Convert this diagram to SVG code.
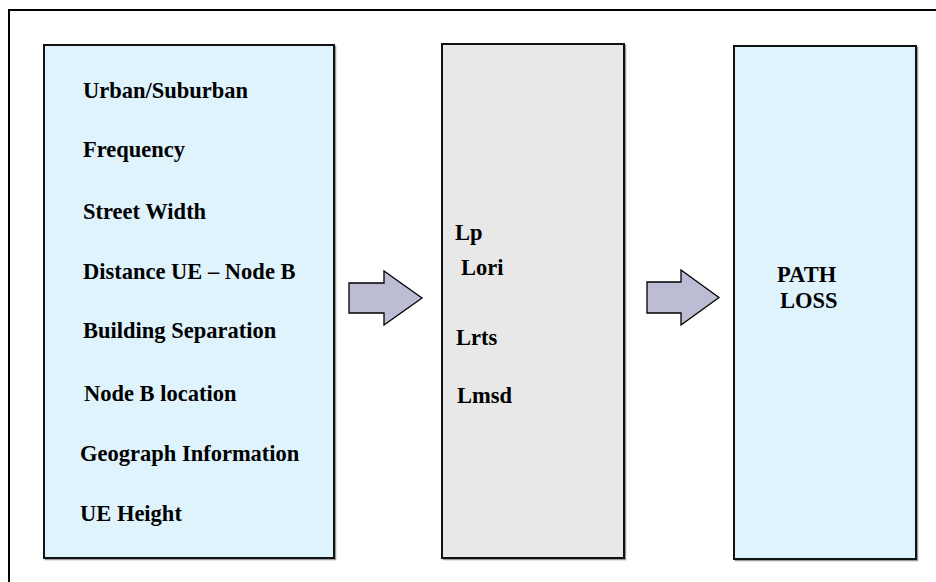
<svg xmlns="http://www.w3.org/2000/svg" width="936" height="582" viewBox="0 0 936 582">
  <style>
    .frame { fill: #ffffff; stroke: #000000; stroke-width: 2; }
    .shadow { fill: none; stroke: #9a9a9a; stroke-width: 1.5; }
    .box { stroke: #111111; stroke-width: 2; }
    .blue { fill: #dff3fc; }
    .grey { fill: #e8e8e8; }
    .lbl { font-family: "Liberation Serif", "Times New Roman", serif; font-weight: bold; font-size: 22.5px; fill: #000000; }
    .arrow { fill: #bcbcd4; stroke: #000000; stroke-width: 1.3; stroke-linejoin: miter; }
  </style>

  <rect width="936" height="582" fill="#ffffff"/>
  <!-- outer border -->
  <rect class="frame" x="9" y="10" width="940" height="590"/>

  <!-- input parameters -->
  <g id="inputs">
    <rect class="shadow" x="45.5" y="46.5" width="290" height="513"/>
    <rect class="box blue" x="44" y="45" width="290" height="513"/>
    <text class="lbl" x="83" y="98">Urban/Suburban</text>
    <text class="lbl" x="83" y="157">Frequency</text>
    <text class="lbl" x="83" y="219">Street Width</text>
    <text class="lbl" x="83" y="279">Distance UE – Node B</text>
    <text class="lbl" x="83" y="338">Building Separation</text>
    <text class="lbl" x="84" y="401">Node B location</text>
    <text class="lbl" x="80" y="461">Geograph Information</text>
    <text class="lbl" x="80" y="521">UE Height</text>
  </g>

  <!-- loss components -->
  <g id="components">
    <rect class="shadow" x="443.5" y="45.5" width="182" height="514"/>
    <rect class="box grey" x="442" y="44" width="182" height="514"/>
    <text class="lbl" x="455" y="240">Lp</text>
    <text class="lbl" x="461" y="275">Lori</text>
    <text class="lbl" x="456" y="345">Lrts</text>
    <text class="lbl" x="457" y="403">Lmsd</text>
  </g>

  <!-- result -->
  <g id="result">
    <rect class="shadow" x="735.5" y="47.5" width="182" height="513"/>
    <rect class="box blue" x="734" y="46" width="182" height="513"/>
    <text class="lbl" x="777" y="282">PATH</text>
    <text class="lbl" x="780" y="308">LOSS</text>
  </g>

  <!-- block arrows between stages -->
  <g id="connectors">
    <polygon class="arrow" points="349,283 384,283 384,271 422,298 384,325 384,313 349,313"/>
    <polygon class="arrow" points="647,282 681,282 681,270 719,297.5 681,325 681,313 647,313"/>
  </g>
</svg>
